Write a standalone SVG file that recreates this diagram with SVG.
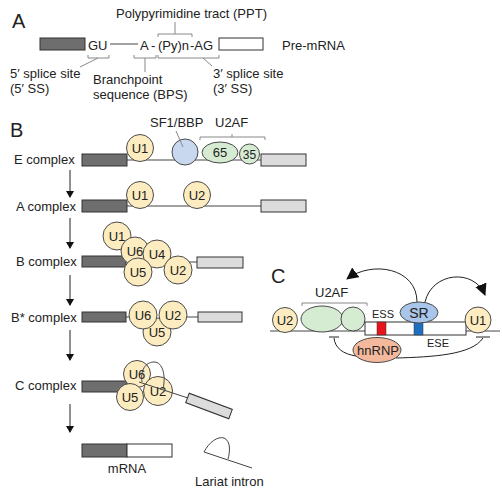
<svg xmlns="http://www.w3.org/2000/svg" width="502" height="497" viewBox="0 0 502 497">
<style>
text{font-family:"Liberation Sans",Arial,sans-serif;fill:#222;font-size:13px}
.big{font-size:20px}
.mid{text-anchor:middle}
.sm{font-size:11px}
.u{fill:#fcecc0;stroke:#4a4a4a;stroke-width:1}
.dk{fill:#6e6e6e;stroke:#333;stroke-width:1}
.lt{fill:#dcdcdc;stroke:#333;stroke-width:1}
.wh{fill:#fff;stroke:#333;stroke-width:1}
.ln{fill:none;stroke:#444;stroke-width:1}
.br{fill:none;stroke:#888;stroke-width:1}
.ar{fill:none;stroke:#222;stroke-width:1}
</style>
<defs>
<marker id="ah" markerWidth="8" markerHeight="8" refX="6" refY="4" orient="auto" markerUnits="userSpaceOnUse">
<path d="M0,0 L7,4 L0,8 Z" fill="#111"/>
</marker>
<marker id="ah2" markerWidth="14" markerHeight="14" refX="11" refY="6" orient="auto" markerUnits="userSpaceOnUse">
<path d="M0,0 L12,6 L0,12 Z" fill="#111"/>
</marker>
</defs>

<!-- Panel A -->
<g id="panelA">
<text x="12" y="28" class="big">A</text>
<text x="116" y="18">Polypyrimidine tract (PPT)</text>
<rect x="40" y="38" width="45" height="12" class="dk"/>
<text x="88" y="49.5">GU</text>
<text x="140" y="49.5">A</text>
<text x="151" y="49.5">-</text>
<text x="158" y="49.5">(Py)n</text>
<text x="190" y="49.5">-AG</text>
<rect x="219" y="38" width="44" height="12" class="wh"/>
<text x="282" y="49.5">Pre-mRNA</text>
<text x="10" y="78">5′ splice site</text>
<text x="10" y="93">(5′ SS)</text>
<text x="93" y="84">Branchpoint</text>
<text x="93" y="99">sequence (BPS)</text>
<text x="213" y="78">3′ splice site</text>
<text x="213" y="93">(3′ SS)</text>
</g>

<g id="connectorsA">
<line x1="110" y1="44" x2="138" y2="44" class="ln"/>
<path d="M158,37 V34 H192 V37 M175,34 V22" class="br"/>
<path d="M88,55 V58 H109 V55 M98,58 L80,67" class="br"/>
<path d="M134,55 V58 H156 V55 M145,58 V72" class="br"/>
<path d="M158,55 V58 H219 V55 M203,58 L212,66" class="br"/>
</g>

<!-- Panel B -->
<g id="panelB">
<text x="10" y="137" class="big">B</text>
</g>

<g id="connectorsB">
<line x1="127" y1="160" x2="261" y2="160" class="ln"/>
<line x1="127" y1="206" x2="261" y2="206" class="ln"/>
<line x1="186" y1="262" x2="197" y2="262" class="ln"/>
<line x1="126" y1="317" x2="130" y2="317" class="ln"/>
<line x1="186" y1="317" x2="198" y2="317" class="ln"/>
<line x1="70" y1="170" x2="70" y2="197" class="ar" marker-end="url(#ah)"/>
<line x1="70" y1="218" x2="70" y2="248" class="ar" marker-end="url(#ah)"/>
<line x1="70" y1="275" x2="70" y2="305" class="ar" marker-end="url(#ah)"/>
<line x1="70" y1="330" x2="70" y2="360" class="ar" marker-end="url(#ah)"/>
<line x1="70" y1="404" x2="70" y2="432" class="ar" marker-end="url(#ah)"/>
<path d="M200,140 V137 H265 V140 M232,137 V134" class="br"/>
</g>

<g id="E-complex">
<text x="14" y="164">E complex</text>
<rect x="82" y="154" width="45" height="12" class="dk"/>
<rect x="261" y="154" width="45" height="12" class="lt"/>
<circle cx="140" cy="148" r="13.5" class="u"/>
<text x="140" y="152.5" class="mid">U1</text>
<circle cx="185" cy="152" r="13" fill="#c8d8ef" stroke="#4a4a4a"/>
<line x1="176" y1="131" x2="183" y2="147" class="br"/>
<text x="150" y="127">SF1/BBP</text>
<text x="215" y="127">U2AF</text>
<ellipse cx="220" cy="152.5" rx="18" ry="10.5" fill="#d6ecd2" stroke="#4a4a4a"/>
<text x="220" y="157" class="mid">65</text>
<circle cx="249.5" cy="154" r="10" fill="#d6ecd2" stroke="#4a4a4a"/>
<text x="249.5" y="158.5" class="mid" style="font-size:12px">35</text>
</g>

<g id="A-complex">
<text x="16" y="211">A complex</text>
<rect x="82" y="200" width="45" height="12" class="dk"/>
<rect x="261" y="200" width="45" height="12" class="lt"/>
<circle cx="140" cy="195" r="13.5" class="u"/>
<text x="140" y="199.5" class="mid">U1</text>
<circle cx="197" cy="195" r="13.5" class="u"/>
<text x="197" y="199.5" class="mid">U2</text>
</g>

<g id="B-complex">
<text x="16" y="266">B complex</text>
<rect x="82" y="256" width="44" height="11" class="dk"/>
<rect x="197" y="257" width="46" height="11" class="lt"/>
<circle cx="117" cy="236" r="14" class="u"/>
<text x="117" y="240.5" class="mid">U1</text>
<circle cx="135" cy="251" r="14" class="u"/>
<text x="135" y="255.5" class="mid">U6</text>
<circle cx="157" cy="254" r="14" class="u"/>
<text x="157" y="258.5" class="mid">U4</text>
<circle cx="138" cy="272" r="14" class="u"/>
<text x="138" y="276.5" class="mid">U5</text>
<circle cx="178" cy="270" r="14" class="u"/>
<text x="178" y="274.5" class="mid">U2</text>
</g>

<g id="Bstar-complex">
<text x="11" y="322">B* complex</text>
<rect x="82" y="312" width="44" height="10" class="dk"/>
<rect x="198" y="312" width="44" height="10" class="lt"/>
<circle cx="157" cy="332" r="14" class="u"/>
<text x="157" y="336.5" class="mid">U5</text>
<circle cx="143" cy="315" r="14" class="u"/>
<text x="143" y="319.5" class="mid">U6</text>
<circle cx="173" cy="315" r="14" class="u"/>
<text x="173" y="319.5" class="mid">U2</text>
</g>

<g id="C-complex">
<text x="15" y="390">C complex</text>
<rect x="82" y="381" width="45" height="11" class="dk"/>
<circle cx="137" cy="374" r="13.5" class="u"/>
<text x="137" y="378.5" class="mid">U6</text>
<circle cx="130" cy="397" r="13.5" class="u"/>
<text x="130" y="401.5" class="mid">U5</text>
<circle cx="158" cy="391" r="14.5" class="u"/>
<text x="158" y="395.5" class="mid">U2</text>
<path d="M142,382 C140,367 148,362 154,362 C163,362 166,376 163,389" class="ln"/>
<line x1="139" y1="382" x2="188" y2="398" class="ln"/>
<rect x="-23" y="-5" width="46" height="10" class="lt" transform="translate(209,406) rotate(20.5)"/>
</g>

<g id="mRNA">
<rect x="82" y="444" width="45" height="13" class="dk"/>
<rect x="127" y="444" width="45" height="13" class="wh"/>
<text x="127" y="473" class="mid">mRNA</text>
</g>

<g id="lariat">
<line x1="204" y1="452" x2="252" y2="468" class="ln"/>
<path d="M204,452 C209,442 218,436 224,438 C231,441 230,452 228,459" class="ln"/>
<text x="195" y="486">Lariat intron</text>
</g>

<!-- Panel C -->
<g id="panelC">
<text x="271" y="283" class="big">C</text>
</g>

<g id="connectorsC">
<line x1="270" y1="331" x2="500" y2="331" class="ln"/>
<path d="M302,306 V303 H367 V306" class="br"/>
<path d="M417,302 C417,268 372,260 347,279" class="ar" marker-end="url(#ah2)"/>
<path d="M425,302 C432,272 474,268 485,295" class="ar" marker-end="url(#ah2)"/>
<path d="M356,356 C343,354 335,348 334,338 M329,337 H339" class="ar"/>
<path d="M396,358 C432,357 472,355 483,338 M476,337 H490" class="ar"/>
</g>

<g id="C-U2">
<circle cx="285" cy="320" r="12.5" class="u"/>
<text x="285" y="324.5" class="mid">U2</text>
</g>
<g id="C-U2AF">
<text x="315" y="297">U2AF</text>
<ellipse cx="322" cy="319" rx="21" ry="13" fill="#d6ecd2" stroke="#4a4a4a"/>
<ellipse cx="353" cy="319" rx="12" ry="12" fill="#d6ecd2" stroke="#4a4a4a"/>
</g>
<g id="C-exon">
<rect x="365" y="322" width="101" height="13" class="wh"/>
<rect x="377" y="322" width="9" height="13" fill="#e8141c" stroke="#333" stroke-width="0.5"/>
<rect x="414" y="322" width="9" height="13" fill="#1f6fc0" stroke="#333" stroke-width="0.5"/>
<text x="372" y="318" class="sm">ESS</text>
<text x="427" y="347" class="sm">ESE</text>
</g>
<g id="C-SR">
<ellipse cx="419" cy="312.5" rx="19" ry="10.5" fill="#a9c5e9" stroke="#4a4a4a"/>
<text x="419" y="318" class="mid" style="font-size:14px">SR</text>
</g>
<g id="C-hnRNP">
<ellipse cx="377" cy="350" rx="24" ry="12.5" fill="#f4b99c" stroke="#4a4a4a"/>
<text x="378" y="355" class="mid">hnRNP</text>
</g>
<g id="C-U1">
<circle cx="478" cy="320" r="13" class="u"/>
<text x="478" y="324.5" class="mid">U1</text>
</g>
</svg>
